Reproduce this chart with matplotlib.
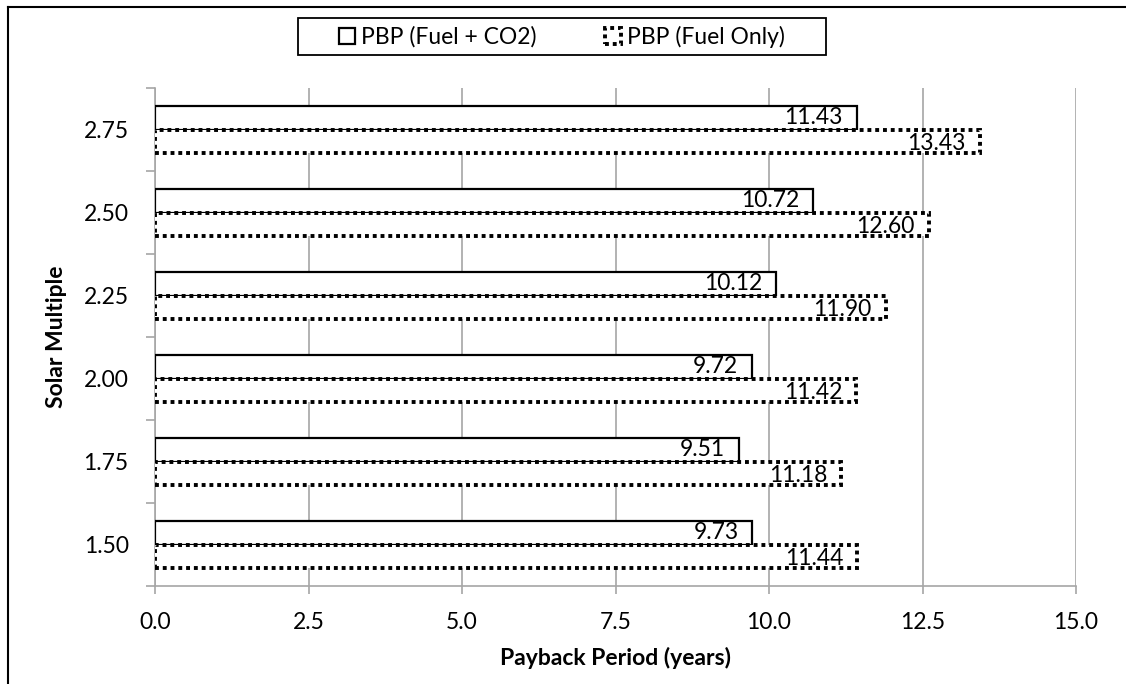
#!/usr/bin/env python3
"""Payback period vs solar multiple, horizontal bar chart."""

import matplotlib
matplotlib.use('Agg')
import matplotlib.pyplot as plt
from matplotlib.patches import Patch, Rectangle
from matplotlib.lines import Line2D
import numpy as np

matplotlib.rcParams['font.family'] = ['Lato', 'DejaVu Sans']
matplotlib.rcParams['font.size'] = 16.5

solar_multiple = ['1.50', '1.75', '2.00', '2.25', '2.50', '2.75']
pbp_fuel_co2 = [9.73, 9.51, 9.72, 10.12, 10.72, 11.43]
pbp_fuel_only = [11.44, 11.18, 11.42, 11.90, 12.60, 13.43]

W, H = 1126, 684
fig = plt.figure(figsize=(W / 100, H / 100), dpi=100)
ax = fig.add_axes([155 / W, 1 - 586 / H, (1076 - 155) / W, (586 - 88) / H])

y = np.arange(len(solar_multiple))
h = 0.28
grey = '#a6a6a6'
dots = (0, (1, 1))

ax.barh(y + h / 2, pbp_fuel_co2, height=h, color='white', edgecolor='black',
        linewidth=1.6, zorder=3)
ax.barh(y - h / 2, pbp_fuel_only, height=h, color='white', edgecolor='black',
        linewidth=2.8, linestyle=dots, zorder=3)

for yi, v in zip(y, pbp_fuel_co2):
    ax.annotate(f'{v:.2f}', xy=(v, yi + h / 2), xytext=(-10, 0),
                textcoords='offset points', ha='right', va='center', zorder=4)
for yi, v in zip(y, pbp_fuel_only):
    ax.annotate(f'{v:.2f}', xy=(v, yi - h / 2), xytext=(-10, -2),
                textcoords='offset points', ha='right', va='center', zorder=4)

ax.set_xlim(0, 15)
ax.set_ylim(-0.5, len(solar_multiple) - 0.5)
ax.set_xticks(np.arange(0, 15.01, 2.5))
ax.set_xticklabels([f'{t:.1f}' for t in np.arange(0, 15.01, 2.5)])
ax.set_yticks(np.arange(-0.5, len(solar_multiple), 1.0))
ax.set_yticklabels([])
ax.set_yticks(y, minor=True)
ax.set_yticklabels(solar_multiple, minor=True)

ax.tick_params(axis='y', which='major', length=6.5, color=grey, width=1.2)
ax.tick_params(axis='y', which='minor', length=0, pad=19)
ax.tick_params(axis='x', length=6, color=grey, width=1.2, pad=13)

ax.grid(axis='x', color=grey, linewidth=1.2, zorder=0)
ax.set_axisbelow(True)
for s in ['top', 'right']:
    ax.spines[s].set_visible(False)
for s in ['left', 'bottom']:
    ax.spines[s].set_color(grey)
    ax.spines[s].set_linewidth(1.2)

ax.set_xlabel('Payback Period (years)', fontweight='bold', labelpad=10)
ax.set_ylabel('Solar Multiple', fontweight='bold', labelpad=12)

# legend with its own frame
fig.patches.append(Rectangle((298 / W, 1 - 55 / H), 528 / W, 37 / H,
                             transform=fig.transFigure, fill=False,
                             edgecolor='black', linewidth=1.3))
handles = [Patch(facecolor='white', edgecolor='black', linewidth=1.6),
           Patch(facecolor='white', edgecolor='black', linewidth=2.8,
                 linestyle=dots)]
fig.legend(handles, ['PBP (Fuel + CO2)', 'PBP (Fuel Only)'], ncol=2,
           loc='center', bbox_to_anchor=(562 / W, 1 - 36.5 / H), frameon=False,
           handlelength=0.7, handleheight=0.7, handletextpad=0.25,
           columnspacing=3.0)

# outer chart border (top and left)
fig.add_artist(Line2D([8 / W, 8 / W], [0, 1 - 7 / H], transform=fig.transFigure,
                      color='black', linewidth=1.5))
fig.add_artist(Line2D([8 / W, 1], [1 - 7 / H, 1 - 7 / H], transform=fig.transFigure,
                      color='black', linewidth=1.5))

plt.savefig('out.png', dpi=100)
plt.close()
